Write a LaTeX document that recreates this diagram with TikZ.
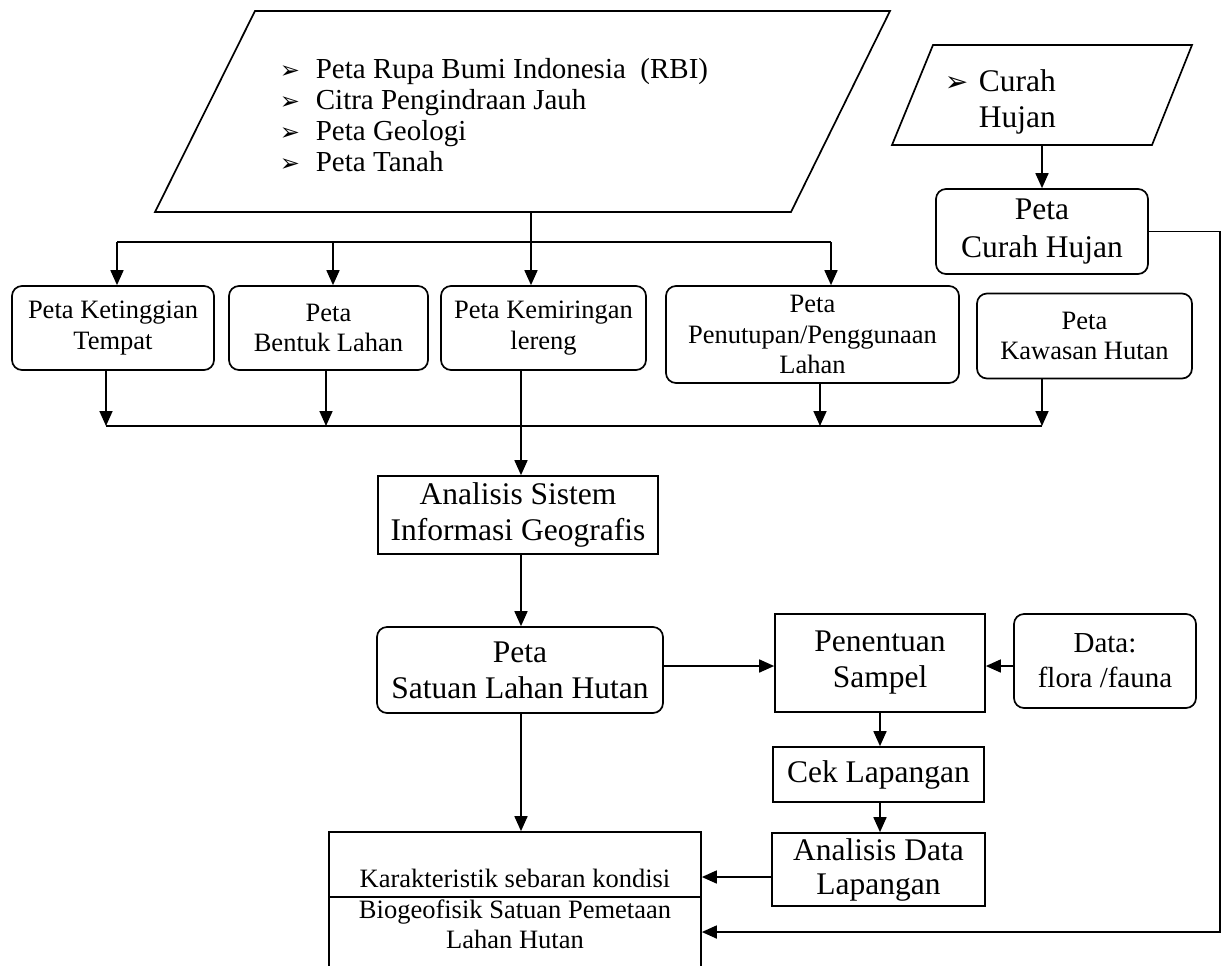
\documentclass[tikz,border=0pt]{standalone}
\usepackage{fontspec}
\setmainfont{Liberation Serif}
\newfontfamily\bulletfont{DejaVu Sans}
\usepackage{tikz}
\usetikzlibrary{arrows.meta}
\newcommand{\fsmall}{\fontsize{13.25pt}{15.25pt}\selectfont}
\newcommand{\fsrc}{\fontsize{14.5pt}{15.5pt}\selectfont}
\newcommand{\fbig}{\fontsize{15.75pt}{18pt}\selectfont}
\newcommand{\bul}[2]{\makebox[#1][l]{\bulletfont\fontsize{#2}{#2}\selectfont ➢}}
\tikzstyle{arrow} = [-{Triangle[length=7.5pt,width=6.5pt]}]
\tikzstyle{mapbox} = [draw, rounded corners=5pt, align=center, inner sep=0pt, font=\fsmall]
\tikzstyle{bigmap} = [draw, rounded corners=5pt, align=center, inner sep=0pt, font=\fbig]
\tikzstyle{procbox} = [draw, align=center, inner sep=0pt, font=\fbig]

\begin{document}
\begin{tikzpicture}[x=0.5pt, y=-0.5pt, line width=0.85pt]
      \useasboundingbox (0,0) rectangle (1221,965);
      \clip (0,0) rectangle (1221,965);
      %%%%%%%%%%%%%%%%%%%%%%%%%%%%%%%%%%%%%%%
      % input data
      \draw (155,212) -- (255,11) -- (890,11) -- (791,212) -- cycle;
      \foreach \t [count=\i] in {Peta Rupa Bumi Indonesia\ \ (RBI), Citra Pengindraan Jauh, Peta Geologi, Peta Tanah}
        \node[anchor=base west, inner sep=0pt, font=\fsrc] (src\i) at (279,47+31*\i) {\bul{18pt}{12pt}\t};
      \coordinate (srcbot) at (531,212);
      \draw (892,145) -- (933,45) -- (1192,45) -- (1152,145) -- cycle;
      \node[anchor=base west, inner sep=0pt, font=\fbig] (hujan1) at (944,91) {\bul{17pt}{14pt}Curah};
      \node[anchor=base west, inner sep=0pt, font=\fbig] (hujan2) at (978,127) {Hujan};
      \coordinate (hujanbot) at (1042,145);
      %%%%%%%%%%%%%%%%%%%%%%%%%%%%%%%%%%%%%%%
      % maps
      \node[mapbox, minimum width=101pt, minimum height=42pt] (ketinggian) at (113,328) {Peta Ketinggian\\Tempat};
      \node[mapbox, minimum width=99.5pt, minimum height=42pt] (bentuk) at (328.5,328) {Peta\\Bentuk Lahan};
      \node[mapbox, minimum width=102.5pt, minimum height=42pt] (kemiringan) at (543.5,328) {Peta Kemiringan\\lereng};
      \node[mapbox, minimum width=146.5pt, minimum height=48.5pt] (penutupan) at (812.5,334.5) {Peta\\Penutupan/Penggunaan\\Lahan};
      \node[mapbox, minimum width=107.5pt, minimum height=42.5pt] (kawasan) at (1084.5,336) {Peta\\Kawasan Hutan};
      \node[bigmap, font=\fontsize{15.75pt}{19pt}\selectfont, minimum width=106pt, minimum height=42.5pt] (curahpeta) at (1042,231.5) {Peta\\Curah Hujan};
      %%%%%%%%%%%%%%%%%%%%%%%%%%%%%%%%%%%%%%%
      % analysis
      \node[procbox, minimum width=140pt, minimum height=39pt] (analisis) at (518,515) {Analisis Sistem\\Informasi Geografis};
      \node[bigmap, minimum width=143pt, minimum height=43pt] (satuan) at (520,670) {Peta\\Satuan Lahan Hutan};
      \node[procbox, minimum width=105pt, minimum height=49pt] (penentuan) at (880,663) {Penentuan\\Sampel};
      \node[mapbox, font=\fontsize{14.5pt}{17.5pt}\selectfont, minimum width=91pt, minimum height=47pt] (data) at (1105,661) {Data:\\flora /fauna};
      \node[procbox, minimum width=105.5pt, minimum height=27.5pt] (cek) at (878.5,774.5) {\raisebox{-2pt}{Cek Lapangan}};
      \node[procbox, font=\fontsize{15.75pt}{17pt}\selectfont, minimum width=106.5pt, minimum height=36.5pt] (andata) at (878.5,869.5) {Analisis Data\\Lapangan};
      \node[draw, inner sep=0pt, minimum width=186pt, minimum height=80pt] (hasil) at (515,912) {};
      \coordinate (divL) at (329,897);
      \coordinate (divR) at (701,897);
      \draw (divL) -- (divR);
      \node[anchor=base, inner sep=0pt, font=\fsmall] (hasil1) at (515,887) {Karakteristik sebaran kondisi};
      \node[anchor=base, inner sep=0pt, font=\fsmall] (hasil2) at (515,918) {Biogeofisik Satuan Pemetaan};
      \node[anchor=base, inner sep=0pt, font=\fsmall] (hasil3) at (515,948) {Lahan Hutan};
      %%%%%%%%%%%%%%%%%%%%%%%%%%%%%%%%%%%%%%%
      % upper bus
      \coordinate (t1) at (117,242);
      \coordinate (t2) at (333,242);
      \coordinate (t4) at (831,242);
      \draw (t1) -- (t4);
      \draw[arrow] (srcbot) -- (kemiringan.north -| srcbot);
      \draw[arrow] (t1) -- (ketinggian.north -| t1);
      \draw[arrow] (t2) -- (bentuk.north -| t2);
      \draw[arrow] (t4) -- (penutupan.north -| t4);
      % lower bus
      \coordinate (b1) at (106,426);
      \coordinate (b2) at (326,426);
      \coordinate (b3) at (521,426);
      \coordinate (b4) at (820,426);
      \coordinate (b5) at (1042,426);
      \draw (b1) -- (b5);
      \draw[arrow] (ketinggian.south -| b1) -- (b1);
      \draw[arrow] (bentuk.south -| b2) -- (b2);
      \draw[arrow] (penutupan.south -| b4) -- (b4);
      \draw[arrow] (kawasan.south -| b5) -- (b5);
      \draw[arrow] (kemiringan.south -| b3) -- (analisis.north -| b3);
      \draw[arrow] (analisis.south -| b3) -- (satuan.north -| b3);
      \draw[arrow] (satuan.south -| b3) -- (hasil.north -| b3);
      % right part
      \coordinate (midR) at (1000,666);
      \coordinate (lowR) at (740,877);
      \draw[arrow] (hujanbot) -- (curahpeta.north);
      \draw[arrow] (satuan.east |- midR) -- (penentuan.west |- midR);
      \draw[arrow] (data.west |- midR) -- (penentuan.east |- midR);
      \draw[arrow] (penentuan.south) -- (penentuan.south |- cek.north);
      \draw[arrow] (cek.south -| penentuan.south) -- (andata.north -| penentuan.south);
      \draw[arrow] (andata.west |- lowR) -- (hasil.east |- lowR);
      \coordinate (edgeB) at (1220,932);
      \draw[arrow] (curahpeta.east) -- (curahpeta.east -| edgeB) -- (edgeB) -- (edgeB -| hasil.east);
\end{tikzpicture}
\end{document}
